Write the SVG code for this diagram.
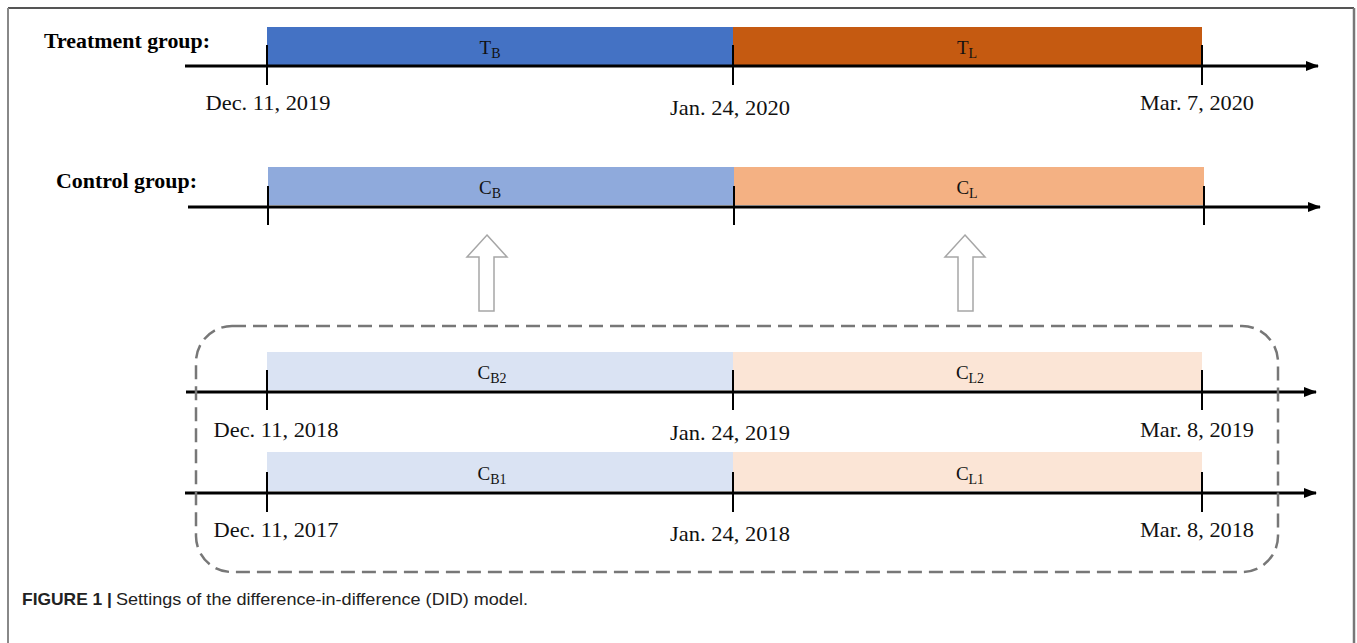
<svg xmlns="http://www.w3.org/2000/svg" width="1357" height="643" viewBox="0 0 1357 643">
<defs>
<marker id="ah" viewBox="0 0 13 10" refX="12" refY="5" markerWidth="13" markerHeight="10" orient="auto" markerUnits="userSpaceOnUse">
<path d="M0,0 L13,5 L0,10 z" fill="#000"/>
</marker>
<style>
.ax{stroke:#000;stroke-width:3;fill:none}
.tk{stroke:#000;stroke-width:2}
.dt{font-family:"Liberation Serif","Times New Roman",serif;font-size:21px;fill:#111}
.lb{font-family:"Liberation Serif","Times New Roman",serif;font-size:19px;fill:#111}
.sb{font-size:14px}
.gr{font-family:"Liberation Serif","Times New Roman",serif;font-size:20px;font-weight:bold;fill:#000}
.hol{fill:#fff;stroke:#a6a6a6;stroke-width:1.5}
</style>
</defs>
<rect width="1357" height="643" fill="#fff"/>
<g id="frame" fill="none">
<line x1="8" y1="8" x2="1354" y2="8" stroke="#555" stroke-width="2"/>
<line x1="8" y1="8" x2="8" y2="643" stroke="#888" stroke-width="2"/>
<line x1="1354" y1="8" x2="1354" y2="643" stroke="#777" stroke-width="2.5"/>
</g>
<g id="treatment">
<text class="gr" x="44" y="48" textLength="166" lengthAdjust="spacingAndGlyphs">Treatment group:</text>
<rect x="267" y="27" width="466" height="39" fill="#4472C4"/>
<rect x="733" y="27" width="469" height="39" fill="#C55A11"/>
<text class="lb" x="490" y="54" text-anchor="middle">T<tspan class="sb" dy="4">B</tspan></text>
<text class="lb" x="967" y="54" text-anchor="middle">T<tspan class="sb" dy="4">L</tspan></text>
</g>
<g id="control">
<text class="gr" x="56" y="188" textLength="141" lengthAdjust="spacingAndGlyphs">Control group:</text>
<rect x="268" y="167" width="466" height="38" fill="#8FAADC"/>
<rect x="734" y="167" width="470" height="38" fill="#F4B183"/>
<text class="lb" x="490" y="194" text-anchor="middle">C<tspan class="sb" dy="4">B</tspan></text>
<text class="lb" x="967" y="194" text-anchor="middle">C<tspan class="sb" dy="4">L</tspan></text>
</g>
<g id="past2019">
<rect x="267" y="352" width="466" height="38" fill="#DAE3F3"/>
<rect x="733" y="352" width="469" height="38" fill="#FBE5D6"/>
<text class="lb" x="492" y="379" text-anchor="middle">C<tspan class="sb" dy="4">B2</tspan></text>
<text class="lb" x="970" y="379" text-anchor="middle">C<tspan class="sb" dy="4">L2</tspan></text>
</g>
<g id="past2018">
<rect x="267" y="452" width="466" height="39" fill="#DAE3F3"/>
<rect x="733" y="452" width="469" height="39" fill="#FBE5D6"/>
<text class="lb" x="492" y="480" text-anchor="middle">C<tspan class="sb" dy="4">B1</tspan></text>
<text class="lb" x="970" y="480" text-anchor="middle">C<tspan class="sb" dy="4">L1</tspan></text>
</g>
<g id="connectors">
<line class="ax" x1="185" y1="66" x2="1318" y2="66" marker-end="url(#ah)"/>
<line class="tk" x1="267" y1="45" x2="267" y2="85"/>
<line class="tk" x1="733" y1="45" x2="733" y2="85"/>
<line class="tk" x1="1202" y1="45" x2="1202" y2="85"/>
<line class="ax" x1="188" y1="207" x2="1320" y2="207" marker-end="url(#ah)"/>
<line class="tk" x1="268" y1="186" x2="268" y2="225"/>
<line class="tk" x1="734" y1="186" x2="734" y2="225"/>
<line class="tk" x1="1204" y1="186" x2="1204" y2="225"/>
<line class="ax" x1="186" y1="392" x2="1316" y2="392" marker-end="url(#ah)"/>
<line class="tk" x1="267" y1="370" x2="267" y2="410"/>
<line class="tk" x1="733" y1="370" x2="733" y2="410"/>
<line class="tk" x1="1202" y1="370" x2="1202" y2="410"/>
<line class="ax" x1="185" y1="493" x2="1316" y2="493" marker-end="url(#ah)"/>
<line class="tk" x1="267" y1="472" x2="267" y2="512"/>
<line class="tk" x1="733" y1="472" x2="733" y2="512"/>
<line class="tk" x1="1202" y1="472" x2="1202" y2="512"/>
<path class="hol" d="M487,235 L507,257 L494,257 L494,311 L479,311 L479,257 L467,257 Z"/>
<path class="hol" d="M965,235 L985,257 L973,257 L973,311 L958,311 L958,257 L945,257 Z"/>
<rect x="196" y="326" width="1082" height="246" rx="36" ry="36" fill="none" stroke="#777" stroke-width="2.5" stroke-dasharray="14 7"/>
</g>
<g id="dates">
<text class="dt" x="268" y="110" text-anchor="middle" textLength="125" lengthAdjust="spacingAndGlyphs">Dec. 11, 2019</text>
<text class="dt" x="730" y="115" text-anchor="middle" textLength="120" lengthAdjust="spacingAndGlyphs">Jan. 24, 2020</text>
<text class="dt" x="1197" y="110" text-anchor="middle" textLength="114" lengthAdjust="spacingAndGlyphs">Mar. 7, 2020</text>
<text class="dt" x="276" y="437" text-anchor="middle" textLength="125" lengthAdjust="spacingAndGlyphs">Dec. 11, 2018</text>
<text class="dt" x="730" y="440" text-anchor="middle" textLength="120" lengthAdjust="spacingAndGlyphs">Jan. 24, 2019</text>
<text class="dt" x="1197" y="437" text-anchor="middle" textLength="114" lengthAdjust="spacingAndGlyphs">Mar. 8, 2019</text>
<text class="dt" x="276" y="537" text-anchor="middle" textLength="125" lengthAdjust="spacingAndGlyphs">Dec. 11, 2017</text>
<text class="dt" x="730" y="541" text-anchor="middle" textLength="120" lengthAdjust="spacingAndGlyphs">Jan. 24, 2018</text>
<text class="dt" x="1197" y="537" text-anchor="middle" textLength="114" lengthAdjust="spacingAndGlyphs">Mar. 8, 2018</text>
</g>
<g id="caption" font-family="'Liberation Sans',Arial,sans-serif" font-size="17" fill="#222">
<text x="22" y="605" font-weight="bold" textLength="90" lengthAdjust="spacingAndGlyphs">FIGURE 1 |</text>
<text x="116" y="605" textLength="412" lengthAdjust="spacingAndGlyphs">Settings of the difference-in-difference (DID) model.</text>
</g>
</svg>
